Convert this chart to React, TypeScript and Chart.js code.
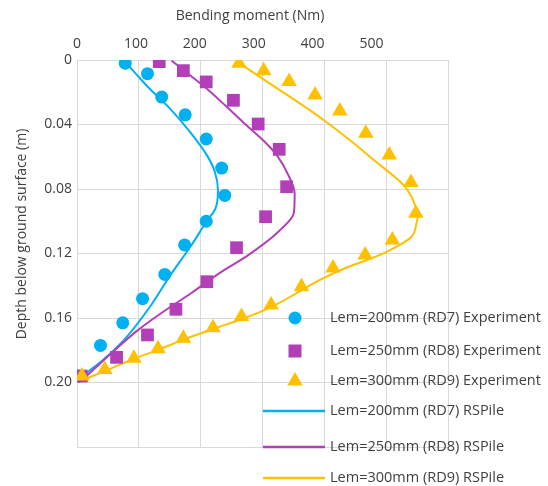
import React, { useEffect, useRef } from 'react';
import { Chart, registerables } from 'chart.js';

Chart.register(...registerables);

// ---------- data ----------
const xTickLabels = [0, 100, 200, 300, 400, 500];
const yTickValues = [0, 0.04, 0.08, 0.12, 0.16, 0.2];

const seriesLabels = [
  'Lem=200mm (RD7) Experiment',
  'Lem=250mm (RD8) Experiment',
  'Lem=300mm (RD9) Experiment',
  'Lem=200mm (RD7) RSPile',
  'Lem=250mm (RD8) RSPile',
  'Lem=300mm (RD9) RSPile',
];

const rd7ExpDepth = [0.002, 0.0085, 0.023, 0.034, 0.049, 0.067, 0.084, 0.1, 0.1147, 0.133, 0.148, 0.163, 0.177, 0.196];
const rd7ExpMoment = [78, 114, 137, 175, 209, 234, 239, 209, 174, 142, 106, 74, 38, 3];

const rd8ExpDepth = [0.001, 0.0066, 0.0136, 0.025, 0.0397, 0.0554, 0.0786, 0.0972, 0.1164, 0.1375, 0.1546, 0.1705, 0.1844, 0.196];
const rd8ExpMoment = [133, 172, 209, 253, 293, 327, 339, 305, 258, 210, 160, 114, 64, 7];

const rd9ExpDepth = [0.002, 0.0066, 0.0134, 0.0217, 0.0316, 0.0455, 0.0589, 0.076, 0.095, 0.1116, 0.121, 0.129, 0.1406, 0.152, 0.159, 0.166, 0.1726, 0.179, 0.185, 0.192, 0.196];
const rd9ExpMoment = [262, 302, 343, 385, 425, 467, 505, 540, 548, 510, 466, 414, 363, 314, 266, 220, 172, 131, 92, 45, 8];

const rd7PileDepth = [0.002, 0.011, 0.018, 0.03, 0.0447, 0.059, 0.0695, 0.081, 0.092, 0.1005, 0.116, 0.134, 0.153, 0.174, 0.186, 0.196, 0.2];
const rd7PileMoment = [80, 101, 118, 150, 183, 210, 223, 228, 224, 209, 183, 150, 118, 75, 42, 10, 2];

const rd8PileDepth = [0.0004, 0.0095, 0.0178, 0.029, 0.0405, 0.0498, 0.059, 0.0715, 0.083, 0.094, 0.1075, 0.121, 0.132, 0.1445, 0.156, 0.168, 0.182, 0.195, 0.2];
const rd8PileMoment = [153, 183, 210, 242, 274, 301, 323, 342, 352, 351, 323, 277, 231, 185, 140, 97, 55, 18, 3];

const rd9PileDepth = [0.0023, 0.0147, 0.0271, 0.0378, 0.0499, 0.0626, 0.0726, 0.0788, 0.0856, 0.0918, 0.0967, 0.1013, 0.1096, 0.1158, 0.1209, 0.1287, 0.1364, 0.1433, 0.1532, 0.1606, 0.1668, 0.1736, 0.1798, 0.1854, 0.1929, 0.1991];
const rd9PileMoment = [264, 312, 361, 401, 442, 482, 514, 531, 542, 548, 551, 549, 541, 517, 490, 436, 393, 361, 314, 267, 220, 171, 131, 91, 45, 5];

// ---------- style ----------
const BLUE = '#00B0F0';
const PURPLE = '#B23FB8';
const YELLOW = '#FFC000';
const GRID = '#D9D9D9';
const TEXT = '#404040';
const FONT = 'Open Sans';

const pts = (mom: number[], dep: number[]) => mom.map((m, i) => ({ x: m, y: dep[i] }));

const titlesPlugin = {
  id: 'titles',
  afterDraw(chart: any) {
    const ctx = chart.ctx;
    const a = chart.chartArea;
    ctx.save();
    ctx.fillStyle = TEXT;
    ctx.font = `14px "${FONT}"`;
    ctx.textAlign = 'center';
    ctx.textBaseline = 'middle';
    ctx.fillText('Bending moment (Nm)', a.left + 173, 16);
    ctx.translate(22, a.top + 174);
    ctx.rotate(-Math.PI / 2);
    ctx.fillText('Depth below ground surface (m)', 0, 0);
    ctx.restore();
  },
};

const legendRowsY = [318, 351, 381, 411, 447, 478];

const legendPlugin = {
  id: 'customLegend',
  afterDraw(chart: any) {
    const ctx = chart.ctx;
    ctx.save();
    chart.data.datasets.forEach((ds: any, i: number) => {
      const y = legendRowsY[i];
      const color = ds.borderColor;
      if (ds.showLine) {
        ctx.strokeStyle = color;
        ctx.lineWidth = 2.5;
        ctx.beginPath();
        ctx.moveTo(263, y);
        ctx.lineTo(325, y);
        ctx.stroke();
      } else {
        ctx.fillStyle = ds.backgroundColor;
        const cx = 295;
        if (ds.pointStyle === 'circle') {
          ctx.beginPath();
          ctx.arc(cx, y, 6.5, 0, Math.PI * 2);
          ctx.fill();
        } else if (ds.pointStyle === 'rect') {
          ctx.fillRect(cx - 6.5, y - 6.5, 13, 13);
        } else {
          const r = 9;
          ctx.beginPath();
          ctx.moveTo(cx, y - r);
          ctx.lineTo(cx + r * 0.866, y + r * 0.5);
          ctx.lineTo(cx - r * 0.866, y + r * 0.5);
          ctx.closePath();
          ctx.fill();
        }
      }
      ctx.fillStyle = TEXT;
      ctx.font = `14.5px "${FONT}"`;
      ctx.textAlign = 'left';
      ctx.textBaseline = 'middle';
      ctx.fillText(ds.label, 330, y);
    });
    ctx.restore();
  },
};

export default function App() {
  const ref = useRef<HTMLCanvasElement | null>(null);

  useEffect(() => {
    if (!ref.current) return;
    const tickFont = { family: FONT, size: 14 };
    const lineCommon = { showLine: true, pointRadius: 0, borderWidth: 2, cubicInterpolationMode: 'monotone', indexAxis: 'y' };
    const chart = new Chart(ref.current, {
      type: 'scatter',
      data: {
        datasets: [
          { label: seriesLabels[0], data: pts(rd7ExpMoment, rd7ExpDepth), pointStyle: 'circle', pointRadius: 6.5, backgroundColor: BLUE, borderColor: BLUE, borderWidth: 0, showLine: false, order: 2 },
          { label: seriesLabels[1], data: pts(rd8ExpMoment, rd8ExpDepth), pointStyle: 'rect', pointRadius: 9, backgroundColor: PURPLE, borderColor: PURPLE, borderWidth: 0, showLine: false, order: 1 },
          { label: seriesLabels[2], data: pts(rd9ExpMoment, rd9ExpDepth), pointStyle: 'triangle', pointRadius: 9, backgroundColor: YELLOW, borderColor: YELLOW, borderWidth: 0, showLine: false, order: 0 },
          { label: seriesLabels[3], data: pts(rd7PileMoment, rd7PileDepth), ...lineCommon, borderColor: BLUE, backgroundColor: BLUE, order: 5 },
          { label: seriesLabels[4], data: pts(rd8PileMoment, rd8PileDepth), ...lineCommon, borderColor: PURPLE, backgroundColor: PURPLE, order: 4 },
          { label: seriesLabels[5], data: pts(rd9PileMoment, rd9PileDepth), ...lineCommon, borderColor: YELLOW, backgroundColor: YELLOW, order: 3 },
        ] as any,
      },
      options: {
        responsive: false,
        animation: false,
        indexAxis: 'y',
        layout: { padding: { left: 0, top: 0, right: 100, bottom: 39 } },
        plugins: { legend: { display: false }, tooltip: { enabled: false } },
        scales: {
          x: {
            type: 'linear',
            position: 'top',
            weight: 0,
            min: 0,
            max: 600,
            ticks: { display: false, stepSize: 100 },
            grid: { color: GRID, drawTicks: false },
            border: { color: GRID },
            afterFit: (s: any) => { s.height = 0; },
          },
          xLab: {
            type: 'linear',
            position: 'top',
            weight: 1,
            min: 0,
            max: 630,
            grid: { display: false, drawTicks: false },
            border: { display: false },
            ticks: { font: tickFont, color: TEXT, padding: 8, maxRotation: 0 },
            afterBuildTicks: (s: any) => { s.ticks = xTickLabels.map((v) => ({ value: v })); },
            afterFit: (s: any) => { s.height = 60; },
          },
          y: {
            type: 'linear',
            position: 'left',
            reverse: true,
            min: 0,
            max: 0.24,
            ticks: {
              stepSize: 0.04,
              font: tickFont,
              color: TEXT,
              padding: 5,
              callback: (v: any) => {
                const n = Number(v);
                const hit = yTickValues.find((t) => Math.abs(t - n) < 1e-6);
                if (hit === undefined) return '';
                return hit === 0 ? '0' : hit.toFixed(2);
              },
            },
            grid: { color: GRID, drawTicks: false },
            border: { color: GRID },
            afterFit: (s: any) => { s.width = 77; },
          },
        } as any,
      },
      plugins: [titlesPlugin, legendPlugin],
    });
    return () => chart.destroy();
  }, []);

  return (
    <div style={{ position: 'fixed', left: 0, top: 0, width: 548, height: 486, background: '#fff' }}>
      <canvas ref={ref} width={548} height={486} style={{ width: 548, height: 486, display: 'block' }} />
    </div>
  );
}
